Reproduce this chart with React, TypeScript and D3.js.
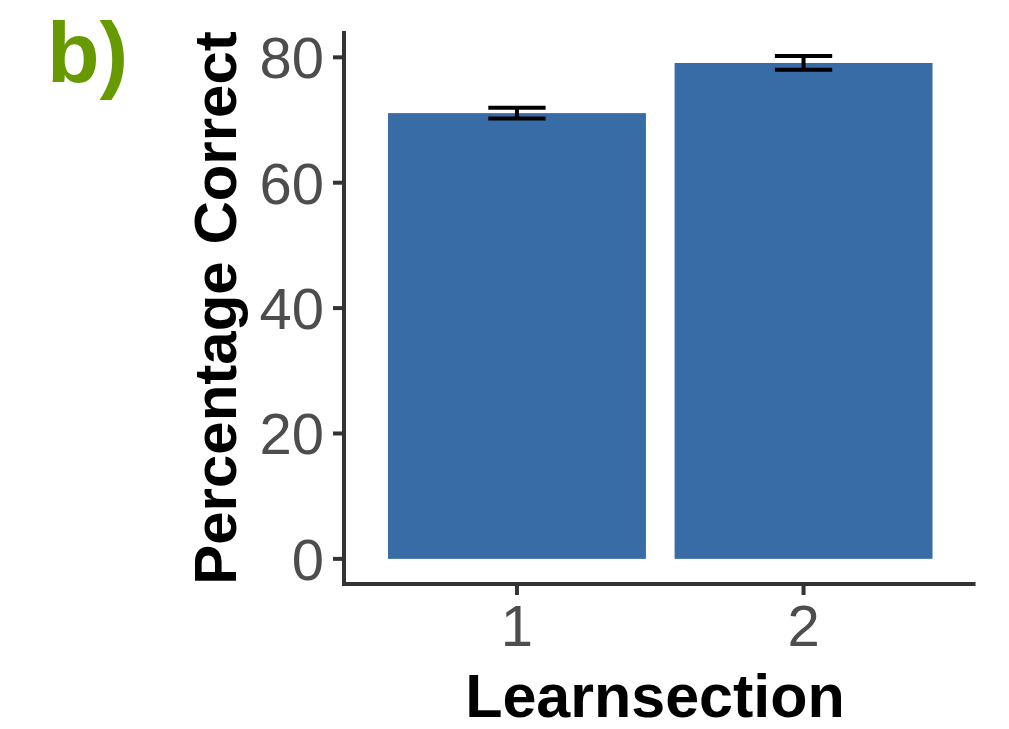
import React from "react";
import * as d3 from "d3";

const categories = ["1", "2"];
const means = [71.1, 79.1];
const errors = [0.85, 1.1];
const yTicks = [0, 20, 40, 60, 80];

const W = 1009;
const H = 729;

export default function App() {
  const x = d3.scaleLinear().domain([0.4, 2.6]).range([345, 975.5]);
  const y = d3.scaleLinear().domain([-4.01, 84.2]).range([584, 31]);
  const barW = 0.9;
  const errW = 0.2;
  const font = "Arial, 'Liberation Sans', Helvetica, sans-serif";
  return (
    <svg
      width={W}
      height={H}
      style={{ position: "absolute", left: 0, top: 0, background: "#fff" }}
      fontFamily={font}
    >
      <text x={47} y={82} fontSize={86} fontWeight="bold" fill="#679a00">
        b)
      </text>
      {categories.map((c, i) => {
        const cx = x(i + 1);
        return (
          <g key={c}>
            <rect
              x={x(i + 1 - barW / 2)}
              y={y(means[i])}
              width={x(i + 1 + barW / 2) - x(i + 1 - barW / 2)}
              height={y(0) - y(means[i])}
              fill="#386ca6"
            />
            <line x1={cx} x2={cx} y1={y(means[i] + errors[i])} y2={y(means[i] - errors[i])} stroke="#000" strokeWidth={4} />
            <line x1={x(i + 1 - errW / 2)} x2={x(i + 1 + errW / 2)} y1={y(means[i] + errors[i])} y2={y(means[i] + errors[i])} stroke="#000" strokeWidth={4} />
            <line x1={x(i + 1 - errW / 2)} x2={x(i + 1 + errW / 2)} y1={y(means[i] - errors[i])} y2={y(means[i] - errors[i])} stroke="#000" strokeWidth={4} />
          </g>
        );
      })}
      {/* y axis */}
      <line x1={344} x2={344} y1={31} y2={586} stroke="#333" strokeWidth={4} />
      {yTicks.map((t) => (
        <g key={t}>
          <line x1={333} x2={344} y1={y(t)} y2={y(t)} stroke="#333" strokeWidth={4} />
          <text x={324} y={y(t)} dy="0.36em" textAnchor="end" fontSize={58} fill="#4d4d4d">
            {t}
          </text>
        </g>
      ))}
      {/* x axis */}
      <line x1={342} x2={975.5} y1={584} y2={584} stroke="#333" strokeWidth={4} />
      {categories.map((c, i) => (
        <g key={c}>
          <line x1={x(i + 1)} x2={x(i + 1)} y1={584} y2={595} stroke="#333" strokeWidth={4} />
          <text x={x(i + 1)} y={646} textAnchor="middle" fontSize={58} fill="#4d4d4d">
            {c}
          </text>
        </g>
      ))}
      <text x={655} y={717} textAnchor="middle" fontSize={61} fontWeight="bold" fill="#000">
        Learnsection
      </text>
      <text
        transform={`translate(236, 308) rotate(-90)`}
        textAnchor="middle"
        fontSize={60}
        fontWeight="bold"
        fill="#000"
      >
        Percentage Correct
      </text>
    </svg>
  );
}
